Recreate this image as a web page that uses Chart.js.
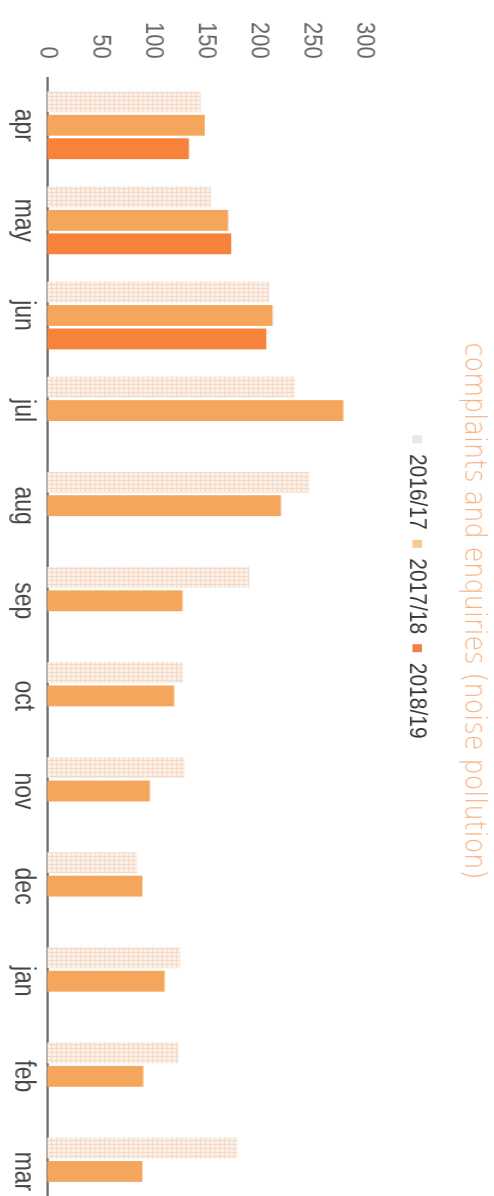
<!DOCTYPE html>
<html>
<head>
<meta charset="utf-8">
<script src="https://cdn.jsdelivr.net/npm/chart.js@4/dist/chart.umd.min.js"></script>
<style>
  html, body { margin: 0; padding: 0; background: #fff; overflow: hidden; }
  body { width: 494px; height: 1196px; position: relative; }
  #wrap {
    position: absolute; left: 0; top: 0;
    width: 1230px; height: 412px;
    transform-origin: 0 0;
    transform: translateX(494px) rotate(90deg) scaleY(1.2);
  }
</style>
</head>
<body>
<div id="wrap"><canvas id="c" width="1230" height="412"></canvas></div>
<script>
const months = ['apr','may','jun','jul','aug','sep','oct','nov','dec','jan','feb','mar'];
const seriesNames = ['2016/17','2017/18','2018/19'];
const values201617 = [145,155,210,234,248,191,128,130,85,126,124,180];
const values201718 = [149,171,213,280,221,128,120,97,90,111,91,90];
const values201819 = [134,174,207,null,null,null,null,null,null,null,null,null];
const yTicks = [0,50,100,150,200,250,300];

function makePattern() {
  const p = document.createElement('canvas');
  p.width = 4; p.height = 4;
  const g = p.getContext('2d');
  g.fillStyle = '#fcf1e8';
  g.fillRect(0,0,4,4);
  g.fillStyle = '#f3dac7';
  g.fillRect(0,0,4,1);
  g.fillRect(0,0,1,4);
  return document.getElementById('c').getContext('2d').createPattern(p, 'repeat');
}
const pattern = makePattern();

const legendBox = ['#e9e6e3','#f6c994','#f08048'];

const legendShift = {
  id: 'legendShift',
  afterLayout(chart) {
    if (chart.legend) { chart.legend.left -= 24; chart.legend.right -= 24; }
  }
};

new Chart(document.getElementById('c'), {
  type: 'bar',
  data: {
    labels: months,
    datasets: [
      { label: seriesNames[0], data: values201617, backgroundColor: pattern, borderWidth: 0 },
      { label: seriesNames[1], data: values201718, backgroundColor: '#f4a65c', borderWidth: 0 },
      { label: seriesNames[2], data: values201819, backgroundColor: '#f7823c', borderWidth: 0 }
    ]
  },
  plugins: [legendShift],
  options: {
    responsive: false,
    animation: false,
    devicePixelRatio: 1,
    layout: { padding: { left: 3, right: 11, top: 0, bottom: 0 } },
    datasets: { bar: { categoryPercentage: 0.74, barPercentage: 0.89 } },
    plugins: {
      tooltip: { enabled: false },
      title: {
        display: true,
        text: 'complaints and enquiries (noise pollution)',
        color: '#f7b282',
        font: { family: 'DejaVu Sans', size: 25.5, weight: '200' },
        padding: { top: 2, bottom: 11 }
      },
      subtitle: {
        display: true,
        text: '',
        weight: 500,
        font: { size: 1 },
        padding: { top: 0, bottom: 22 }
      },
      legend: {
        display: true,
        position: 'top',
        labels: {
          color: '#333',
          font: { family: 'Liberation Sans', size: 21 },
          boxWidth: 8, boxHeight: 8, padding: 10,
          generateLabels: (chart) => chart.data.datasets.map((d, i) => ({
            text: d.label, fillStyle: legendBox[i], strokeStyle: legendBox[i],
            lineWidth: 0, hidden: false, datasetIndex: i, fontColor: '#333'
          }))
        }
      }
    },
    scales: {
      x: {
        grid: { display: false, drawTicks: false },
        border: { display: true, color: '#6e6e6e', width: 2 },
        ticks: { color: '#444', font: { family: 'Liberation Sans', size: 23 }, padding: 6, maxRotation: 0 }
      },
      y: {
        min: 0, max: 300,
        afterBuildTicks: (ax) => { ax.ticks = yTicks.map(v => ({ value: v })); },
        grid: { display: false, drawTicks: false },
        border: { display: false },
        ticks: { color: '#666', font: { family: 'Liberation Sans', size: 22 }, padding: 19 }
      }
    }
  }
});
</script>
</body>
</html>
